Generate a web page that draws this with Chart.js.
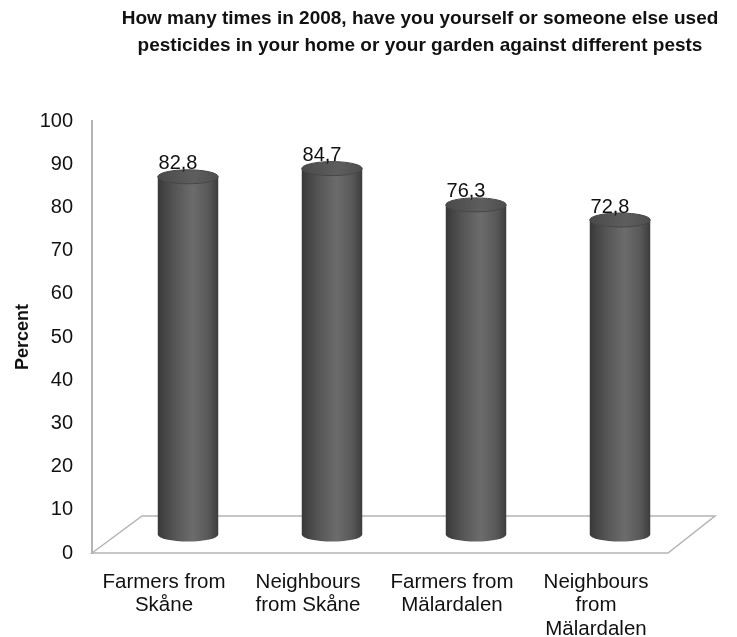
<!DOCTYPE html>
<html>
<head>
<meta charset="utf-8">
<script src="https://cdn.jsdelivr.net/npm/chart.js@4.4.0/dist/chart.umd.min.js"></script>
<style>
  html, body { margin: 0; padding: 0; background: #fff; }
  #wrap { width: 737px; height: 637px; }
</style>
</head>
<body>
<div id="wrap"><canvas id="myChart" width="737" height="637"></canvas></div>
<script>
/* datos del grafico */
const groups = [
  ['Farmers from', 'Skåne'],
  ['Neighbours', 'from Skåne'],
  ['Farmers from', 'Mälardalen'],
  ['Neighbours', 'from', 'Mälardalen']
];
const percent = [82.8, 84.7, 76.3, 72.8];
const titleLines = [
  'How many times in 2008, have you yourself or someone else used',
  'pesticides in your home or your garden against different pests'
];

const FONT = '"Liberation Sans", Arial, sans-serif';
const DEPTH_X = 50, DEPTH_Y = 37;   // profundidad del piso 3D

/* titulo, corrido a la derecha */
const titlePlugin = {
  id: 'shiftedTitle',
  afterDraw(chart) {
    const ctx = chart.ctx;
    ctx.save();
    ctx.fillStyle = '#111';
    ctx.font = 'bold 19px ' + FONT;
    ctx.textAlign = 'center';
    ctx.textBaseline = 'middle';
    titleLines.forEach((t, i) => ctx.fillText(t, 420, 19 + i * 27));
    ctx.restore();
  }
};

/* piso en perspectiva */
const floorPlugin = {
  id: 'floor',
  beforeDatasetsDraw(chart) {
    const { ctx, chartArea: a } = chart;
    ctx.save();
    ctx.beginPath();
    ctx.moveTo(a.left, a.bottom);
    ctx.lineTo(a.left + DEPTH_X, a.bottom - DEPTH_Y);
    ctx.lineTo(a.right + DEPTH_X - 3, a.bottom - DEPTH_Y);
    ctx.lineTo(a.right, a.bottom);
    ctx.closePath();
    ctx.fillStyle = '#fff';
    ctx.fill();
    ctx.strokeStyle = '#b4b4b4';
    ctx.lineWidth = 1.5;
    ctx.stroke();
    ctx.restore();
  }
};

/* cilindros + etiquetas de valor */
const cylinderPlugin = {
  id: 'cylinder',
  afterDatasetsDraw(chart) {
    const ctx = chart.ctx;
    const meta = chart.getDatasetMeta(0);
    meta.data.forEach((bar, i) => {
      const rx = bar.width / 2, ry = 7;
      const cx = bar.x + DEPTH_X / 2 - 1;
      const top = bar.y - DEPTH_Y / 2;
      const bottom = bar.base - DEPTH_Y / 2;

      const g = ctx.createLinearGradient(cx - rx, 0, cx + rx, 0);
      g.addColorStop(0, '#383838');
      g.addColorStop(0.25, '#535353');
      g.addColorStop(0.58, '#6c6c6c');
      g.addColorStop(0.85, '#575757');
      g.addColorStop(1, '#3c3c3c');

      ctx.save();
      ctx.beginPath();
      ctx.moveTo(cx - rx, top);
      ctx.lineTo(cx - rx, bottom);
      ctx.ellipse(cx, bottom, rx, ry, 0, Math.PI, 0, true);
      ctx.lineTo(cx + rx, top);
      ctx.closePath();
      ctx.fillStyle = g;
      ctx.fill();

      // tapa superior
      const gt = ctx.createLinearGradient(cx - rx, 0, cx + rx, 0);
      gt.addColorStop(0, '#4a4a4a');
      gt.addColorStop(0.6, '#5e5e5e');
      gt.addColorStop(1, '#4e4e4e');
      ctx.beginPath();
      ctx.ellipse(cx, top, rx, ry, 0, 0, Math.PI * 2);
      ctx.fillStyle = gt;
      ctx.fill();
      ctx.strokeStyle = '#474747';
      ctx.lineWidth = 1;
      ctx.stroke();

      // valor con coma decimal
      ctx.fillStyle = '#111';
      ctx.font = '20px ' + FONT;
      ctx.textAlign = 'center';
      ctx.textBaseline = 'middle';
      ctx.fillText(String(percent[i]).replace('.', ','), cx - 10, top - 13);
      ctx.restore();
    });
  }
};

const ctx = document.getElementById('myChart');
const chart = new Chart(ctx, {
  type: 'bar',
  data: {
    labels: groups,
    datasets: [{
      data: percent,
      backgroundColor: 'rgba(0,0,0,0)',
      borderWidth: 0,
      categoryPercentage: 1,
      barPercentage: 0.42
    }]
  },
  options: {
    responsive: false,
    animation: false,
    events: [],
    layout: { padding: { top: 121, left: 0, right: 69, bottom: 0 } },
    plugins: {
      legend: { display: false },
      tooltip: { enabled: false },
      title: { display: false }
    },
    scales: {
      x: {
        grid: { display: false, drawTicks: false },
        border: { display: false },
        ticks: {
          color: '#111',
          font: { family: FONT, size: 20.5, lineHeight: 1.16 },
          padding: 17,
          maxRotation: 0,
          autoSkip: false
        },
        afterFit(scale) { scale.height = 84; }
      },
      y: {
        min: 0,
        max: 100,
        grid: { display: false, drawTicks: false },
        border: { display: true, color: '#b4b4b4', width: 2 },
        ticks: {
          stepSize: 10,
          color: '#111',
          font: { family: FONT, size: 20 },
          padding: 19
        },
        title: {
          display: true,
          text: 'Percent',
          color: '#111',
          font: { family: FONT, size: 18, weight: 'bold' },
          padding: { top: 12, bottom: 0 }
        },
        afterFit(scale) { scale.width = 92; }
      }
    }
  },
  plugins: [titlePlugin, floorPlugin, cylinderPlugin]
});
</script>
</body>
</html>
